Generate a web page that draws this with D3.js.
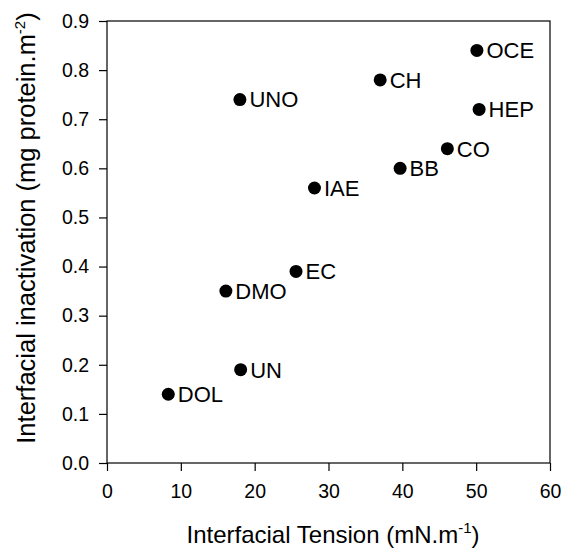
<!DOCTYPE html>
<html>
<head>
<meta charset="utf-8">
<script src="https://cdn.jsdelivr.net/npm/d3@7"></script>
<style>
  body { margin: 0; background: #fff; }
  text { font-family: "Liberation Sans", Arial, sans-serif; fill: #000; }
</style>
</head>
<body>
<svg id="chart" width="562" height="551"></svg>
<script>
// data
const names = ['DOL', 'UN', 'DMO', 'UNO', 'EC', 'IAE', 'CH', 'BB', 'CO', 'OCE', 'HEP'];
const tension = [8.3, 18.1, 16.1, 18.0, 25.6, 28.1, 37.0, 39.7, 46.1, 50.1, 50.4];
const inactivation = [0.14, 0.19, 0.35, 0.74, 0.39, 0.56, 0.78, 0.60, 0.64, 0.84, 0.72];
const xTicks = [0, 10, 20, 30, 40, 50, 60];
const yTicks = [0, 0.1, 0.2, 0.3, 0.4, 0.5, 0.6, 0.7, 0.8, 0.9];

const svg = d3.select('#chart');
const margin = {left: 107, top: 21, right: 12, bottom: 88};
const width = 562 - margin.left - margin.right;
const height = 551 - margin.top - margin.bottom;

const g = svg.append('g').attr('transform', `translate(${margin.left},${margin.top})`);

const x = d3.scaleLinear().domain([0, 60]).range([0, width]);
const y = d3.scaleLinear().domain([0, 0.9]).range([height, 0]);

// frame
g.append('rect')
    .attr('width', width).attr('height', height)
    .attr('fill', 'none').attr('stroke', '#000').attr('stroke-width', 1.2);

const xAxis = g.append('g')
    .attr('transform', `translate(0,${height})`)
    .call(d3.axisBottom(x).tickValues(xTicks).tickFormat(d3.format('d')).tickSizeOuter(0).tickSize(8).tickPadding(13));

const yAxis = g.append('g')
    .call(d3.axisLeft(y).tickValues(yTicks).tickFormat(d3.format('.1f')).tickSizeOuter(0).tickSize(8).tickPadding(10));

[xAxis, yAxis].forEach(a => {
  a.select('.domain').remove();
  a.selectAll('line').attr('stroke', '#000').attr('stroke-width', 1.2);
  a.selectAll('text').style('font-size', '19.5px').attr('fill', '#000')
      .style('font-family', '"Liberation Sans", Arial, sans-serif');
});

// points
const pts = names.map((n, i) => ({name: n, x: tension[i], y: inactivation[i]}));

g.selectAll('circle.pt')
    .data(pts)
    .enter()
      .append('circle')
      .attr('class', 'pt')
      .attr('cx', d => x(d.x))
      .attr('cy', d => y(d.y))
      .attr('r', 6.5)
      .attr('fill', '#000');

g.selectAll('text.lbl')
    .data(pts)
    .enter()
      .append('text')
      .attr('class', 'lbl')
      .attr('x', d => x(d.x) + 9.5)
      .attr('y', d => y(d.y))
      .attr('dy', '0.36em')
      .style('font-size', '22px')
      .text(d => d.name);

// axis titles
const xt = svg.append('text')
    .attr('x', 333)
    .attr('y', 543)
    .attr('text-anchor', 'middle')
    .style('font-size', '24px');
xt.append('tspan').text('Interfacial Tension (mN.m');
xt.append('tspan').attr('dy', -10).style('font-size', '15px').text('-1');
xt.append('tspan').attr('dy', 10).text(')');

const yt = svg.append('text')
    .attr('transform', `translate(35,228) rotate(-90)`)
    .attr('text-anchor', 'middle')
    .style('font-size', '25.5px');
yt.append('tspan').text('Interfacial inactivation (mg protein.m');
yt.append('tspan').attr('dy', -10).style('font-size', '15px').text('-2');
yt.append('tspan').attr('dy', 10).text(')');
</script>
</body>
</html>
